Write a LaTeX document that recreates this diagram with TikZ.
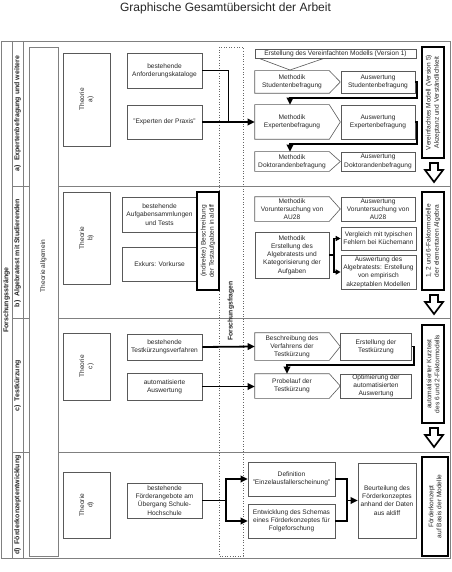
\documentclass[tikz,border=0pt]{standalone}
\usepackage{fontspec}
\setmainfont{Liberation Sans}
\usetikzlibrary{arrows.meta,calc}
\newcommand\hollowdown[1]{\draw[draw=black,line width=1.7pt,fill=white,line join=miter] (#1) ++(-4,0) -- ++(8,0) -- ++(0,7) -- ++(5,0) -- ++(-9,12) -- ++(-9,-12) -- ++(5,0) -- cycle;}
\begin{document}
\begin{tikzpicture}[x=1pt,y=-1pt,
  fr/.style={draw=black!50, line width=0.8pt},
  bx/.style={draw=black!65, line width=0.6pt, fill=white, align=center, inner sep=0.5pt, text=black!85, font=\fontsize{6.6}{8.2}\selectfont},
  chv/.style={bx, draw=none, fill=none},
  chvline/.style={draw=black!65, line width=0.6pt},
  thk/.style={draw=black, line width=2pt, fill=white, align=center, inner sep=0.5pt, text=black!85, font=\fontsize{6.6}{8.2}\selectfont, rotate=90},
  conn/.style={draw=black, line width=1.8pt},
  arr/.style={-{Triangle[length=7pt,width=6.5pt]}},
  sarr/.style={-{Triangle[length=5pt,width=5pt]}},
  lbl/.style={font=\bfseries\fontsize{7}{8}\selectfont, rotate=90, text=black!85, inner sep=0pt},
]
\path[use as bounding box] (0,0) rectangle (451,572);
\node[font=\fontsize{12}{14}\selectfont, text=black!85] (title) at (225.5,8.5) {Graphische Gesamtübersicht der Arbeit};

% frame
\draw[fr] (1,41) rectangle (450,558);
\draw[fr] (12,41) -- (12,558);
\draw[fr] (23,41) -- (23,558);
\draw[fr] (12,186) -- (450,186);
\draw[fr] (12,318) -- (450,318);
\draw[fr] (12,452) -- (450,452);
\node[lbl] (fs) at (6.5,300) {Forschungsstränge};
\node[lbl] (la) at (17.5,113.5) {a)\ \ Expertenbefragung und weitere};
\node[lbl] (lb) at (17.5,253) {b)\ \ Algebratest mit Studierenden};
\node[lbl] (lc) at (17.5,386) {c)\ \ Testkürzung};
\node[lbl] (ld) at (17.5,505) {d)\ \ Förderkonzeptentwicklung};

% Theorie allgemein
\node[bx, draw=black!50, minimum width=29, minimum height=509] (tall) at (43.5,301.5) {};
\node[bx, draw=none, fill=none, rotate=90] (talltxt) at (43.5,266) {Theorie allgemein};

% Theorie boxes
\node[bx, rotate=90, minimum width=93, minimum height=47] (ta) at (86.5,99.5) {Theorie\\a)};
\node[bx, rotate=90, minimum width=92, minimum height=47] (tb) at (86.5,238) {Theorie\\b)};
\node[bx, rotate=90, minimum width=67, minimum height=47] (tc) at (86.5,366.5) {Theorie\\c)};
\node[bx, rotate=90, minimum width=66, minimum height=47] (td) at (86.5,505) {Theorie\\d)};

% Forschungsfragen
\draw[black!60, line width=0.6pt, dotted] (219,47) rectangle (243,556);
\node[lbl, font=\bfseries\fontsize{6.8}{8}\selectfont] (ff) at (231,311) {Forschungsfragen};

% ---------- row a ----------
\node[bx, minimum width=75, minimum height=35] (kat) at (164.5,70.5) {bestehende\\Anforderungskataloge};
\node[bx, minimum width=75, minimum height=34] (pra) at (164.5,122) {"Experten der Praxis"};

\draw[chvline, fill=white] (258,58) -- (325,58) -- (290,70) -- cycle;
\node[bx, minimum width=161, minimum height=9] (erst) at (335.5,53.5) {Erstellung des Vereinfachten Modells (Version 1)};

\node[chv, minimum width=74, minimum height=22] (ms) at (292,82) {Methodik\\Studentenbefragung};
\node[bx, minimum width=74, minimum height=22] (as) at (378,82) {Auswertung\\Studentenbefragung};
\node[chv, minimum width=74, minimum height=34] (me) at (292,122) {Methodik\\Expertenbefragung};
\node[bx, minimum width=74, minimum height=34] (ae) at (378,122) {Auswertung\\Expertenbefragung};
\node[chv, minimum width=74, minimum height=19] (md) at (292,161.5) {Methodik\\Doktorandenbefragung};
\node[bx, minimum width=74, minimum height=19] (ad) at (378,161.5) {Auswertung\\Doktorandenbefragung};
\foreach \n in {ms,me,md}{
  \draw[chvline] (\n.north west) -- (\n.north east) -- ($(\n.east)+(11,0)$) -- (\n.south east) -- (\n.south west) -- cycle;
}
\node[thk, minimum width=111, minimum height=22] (vm) at (433,102.5) {Vereinfachtes Modell (Version 5)\\Akzeptanz und Verständlichkeit};
\coordinate (da) at (434,163);
\hollowdown{da}

\draw[conn] (kat.east) -| ($(pra.east)!0.5!(me.west)$);
\draw[conn,arr] (pra.east) -- (me.west);
\draw[conn,arr] (as.east) -- ++(2,0) |- ($(me.north)+(-2,-7)$) -- ($(me.north)+(-2,0)$);
\draw[conn,arr] (ae.east) -- ++(2,0) |- ($(md.north)+(-2,-8)$) -- ($(md.north)+(-2,0)$);

% ---------- row b ----------
\node[bx, minimum width=75, minimum height=35] (aufg) at (159.5,214.5) {bestehende\\Aufgabensammlungen\\und Tests};
\node[bx, minimum width=75, minimum height=34] (exk) at (159.5,264) {Exkurs: Vorkurse};
\node[thk, minimum width=98, minimum height=22] (ind) at (208,241) {(indirekte) Beschreibung\\der Testaufgaben in aldiff};

\node[chv, minimum width=74, minimum height=24] (mv) at (292,209) {Methodik\\Voruntersuchung von\\AU28};
\draw[chvline] (mv.north west) -- (mv.north east) -- ($(mv.east)+(11,0)$) -- (mv.south east) -- (mv.south west) -- cycle;
\node[bx, minimum width=74, minimum height=24] (av) at (378,209) {Auswertung\\Voruntersuchung von\\AU28};
\node[bx, minimum width=74, minimum height=46] (mer) at (292,255) {Methodik\\Erstellung des\\Algebratests und\\Kategorisierung der\\Aufgaben};
\node[bx, minimum width=75, minimum height=23] (vgl) at (378.5,238.5) {Vergleich mit typischen\\Fehlern bei Küchemann};
\node[bx, minimum width=75, minimum height=34] (aal) at (378.5,272) {Auswertung des\\Algebratests: Erstellung\\von empirisch\\akzeptablen Modellen};
\node[thk, minimum width=98, minimum height=22] (fm) at (433,241) {1, 2 und 6-Faktormodelle\\der elementaren Algebra};
\coordinate (db) at (434,295);
\hollowdown{db}

\draw[conn] (mer.east) -- ++(5,0) coordinate (bj);
\draw[conn,sarr] (bj) |- (vgl.west);
\draw[conn,sarr] (bj) |- (aal.west);

% ---------- row c ----------
\node[bx, minimum width=75, minimum height=26] (tkv) at (164.5,347) {bestehende\\Testkürzungsverfahren};
\node[bx, minimum width=75, minimum height=27] (aut) at (164.5,386.5) {automatisierte\\Auswertung};
\node[chv, minimum width=74, minimum height=27] (bes) at (292,346.5) {Beschreibung des\\Verfahrens der\\Testkürzung};
\node[bx, minimum width=71, minimum height=27] (ers) at (376,346.5) {Erstellung der\\Testkürzung};
\node[chv, minimum width=74, minimum height=24] (pro) at (292,386) {Probelauf der\\Testkürzung};
\node[bx, minimum width=71, minimum height=24] (opt) at (376,386) {Optimierung der\\automatisierten\\Auswertung};
\foreach \n in {bes,pro}{
  \draw[chvline] (\n.north west) -- (\n.north east) -- ($(\n.east)+(11,0)$) -- (\n.south east) -- (\n.south west) -- cycle;
}
\node[thk, minimum width=98, minimum height=22] (kt) at (433,374) {automatisierter Kurztest\\des 6 und 2-Faktormodells};
\coordinate (dc) at (434,428);
\hollowdown{dc}

\draw[conn,arr] (tkv.east) -- (bes.west);
\draw[conn,arr] (aut.east) -- (aut.east -| pro.west);
\draw[conn,arr] (ers.east) -- ++(2,0) |- ($(pro.north)+(-5,-9)$) -- ($(pro.north)+(-5,0)$);

% ---------- row d ----------
\node[bx, minimum width=75, minimum height=35] (foe) at (164.5,500.5) {bestehende\\Förderangebote am\\Übergang Schule-\\Hochschule};
\node[bx, minimum width=87, minimum height=34] (def) at (291.5,479) {Definition\\"Einzelausfallerscheinung"};
\node[bx, minimum width=87, minimum height=34] (ent) at (291.5,521) {Entwicklung des Schemas\\eines Förderkonzeptes für\\Folgeforschung};
\node[bx, minimum width=58, minimum height=75] (beu) at (387,500.5) {Beurteilung des\\Förderkonzeptes\\anhand der Daten\\aus aldiff};
\node[thk, minimum width=99, minimum height=26] (fk) at (435,506.5) {Förderkonzept\\auf Basis der Modelle};

\draw[conn] (foe.east) -- ++(24,0) coordinate (dj);
\draw[conn,arr] (dj) |- (def.west);
\draw[conn,arr] (dj) |- (ent.west);
\draw[conn] (def.east) -- ++(12,0) coordinate (dk) |- (ent.east);
\draw[conn,arr] (dk) |- (beu.west);
\end{tikzpicture}
\end{document}
